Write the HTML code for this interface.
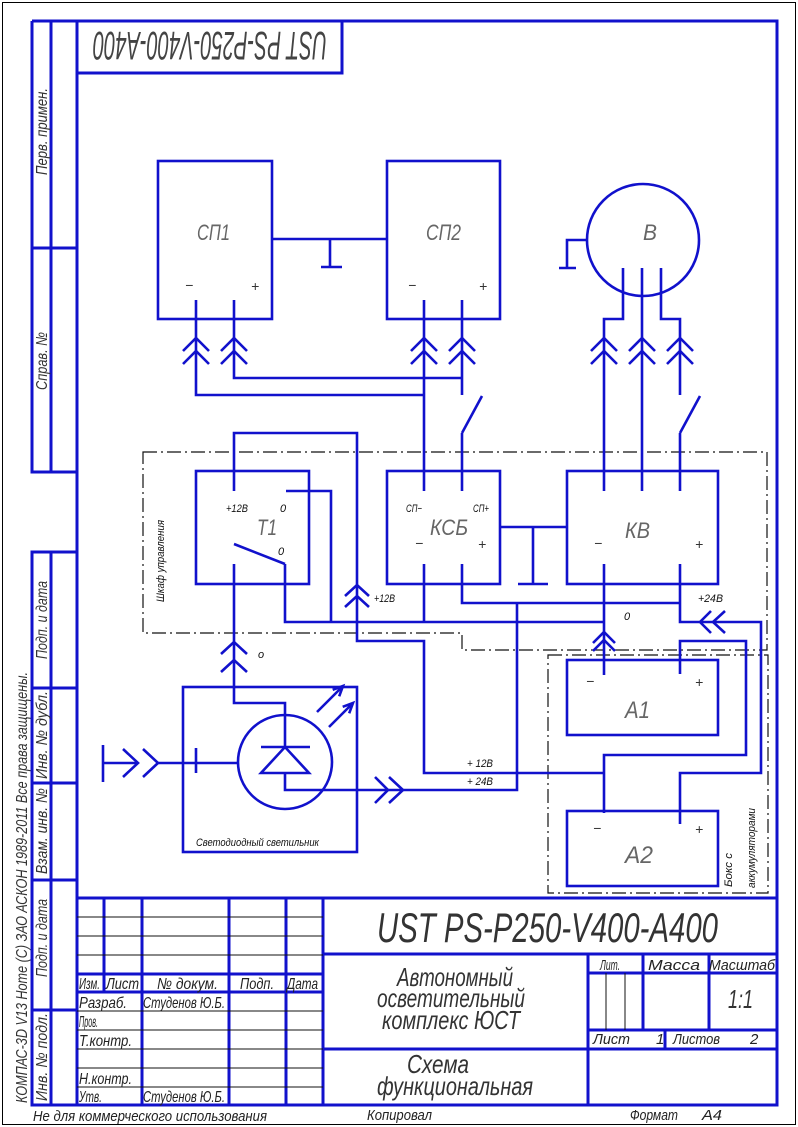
<!DOCTYPE html>
<html><head><meta charset="utf-8">
<style>
html,body{margin:0;padding:0;background:#fff;}
svg{display:block;}
text{font-family:"Liberation Sans","DejaVu Sans",sans-serif;font-style:italic;}
</style></head><body>
<svg width="798" height="1127" viewBox="0 0 798 1127" xmlns="http://www.w3.org/2000/svg">
<rect width="798" height="1127" fill="#fff"/>
<rect x="2.5" y="2.5" width="793" height="1122" fill="none" stroke="#000" stroke-width="1"/>

<!-- Frame -->
<g fill="none" stroke="#1111cc" stroke-width="3">
<path d="M77 21 V1105"/>
<path d="M32 21 H777 V1105 H32 V552 H77"/>
<path d="M32 21 V472 H77"/>
<path d="M51 21 V472"/>
<path d="M51 552 V1105"/>
<path d="M32 248 H77 M32 688 H77 M32 783 H77 M32 880 H77 M32 1010 H77"/>
<path d="M77 73 H342 V21"/>
<!-- title block -->
<path d="M77 898 H777"/>
<path d="M104 898 V992 M142 898 V1105 M229 898 V1105 M286 898 V1105 M323 898 V1105"/>
<path d="M77 974 H323 M77 992 H323"/>
<path d="M323 954 H777 M588 954 V1105 M588 973 H777 M588 1030 H777 M323 1049 H777 M643 954 V1030 M709 954 V1030 M665 1030 V1049"/>
</g>
<g fill="none" stroke="#111" stroke-width="1">
<path d="M77 917 H323 M77 936 H323 M77 955 H323 M77 1011 H323 M77 1030 H323 M77 1049 H323 M77 1068 H323 M77 1087 H323"/>
<path d="M606 973 V1030 M625 973 V1030"/>
</g>

<!-- Dash-dot boxes -->
<g fill="none" stroke="#111" stroke-width="1.2" stroke-dasharray="14 4 2 4">
<path d="M143 452 H767 V650 H462 V633 H143 Z"/>
<rect x="548" y="655" width="220" height="238"/>
</g>

<!-- Diagram wires -->
<g fill="none" stroke="#1111cc" stroke-width="2.6">
<rect x="158" y="161" width="114" height="158"/>
<rect x="387" y="161" width="113" height="158"/>
<path d="M272 239 H387 M330 239 V267 M321 267 H342"/>
<circle cx="643" cy="240" r="56"/>
<path d="M587 240 H567 V268 M559 268 H576"/>
<path d="M623 268 V319 H604 V491 M642 268 V491 M661 268 V319 H680 V395 M680 433 L700 396 M680 433 V491"/>
<path d="M196 300 V395 H424 M234 300 V378 H462 M424 300 V491 M462 300 V395 M462 433 L482 396 M462 433 V491"/>
<path d="M183 351 L196 338 L209 351 M183 364 L196 351 L209 364"/>
<path d="M221 351 L234 338 L247 351 M221 364 L234 351 L247 364"/>
<path d="M411 351 L424 338 L437 351 M411 364 L424 351 L437 364"/>
<path d="M449 351 L462 338 L475 351 M449 364 L462 351 L475 364"/>
<path d="M591 351 L604 338 L617 351 M591 364 L604 351 L617 364"/>
<path d="M629 351 L642 338 L655 351 M629 364 L642 351 L655 364"/>
<path d="M667 351 L680 338 L693 351 M667 364 L680 351 L693 364"/>

<rect x="196" y="471" width="113" height="113"/>
<path d="M234 491 V433 H357 V641 H424 V773 H604"/>
<path d="M286 491 H331 V622"/>
<path d="M234 544 L285 564"/>
<path d="M285 564 V622 H604"/>
<path d="M234 564 V703 H285 V747"/>
<path d="M345 596 L357 585 L369 596 M345 607 L357 596 L369 607"/>
<path d="M221 654 L234 642 L247 654 M221 672 L234 660 L247 672"/>

<rect x="387" y="471" width="113" height="113"/>
<path d="M424 564 V622"/>
<path d="M462 564 V603 H680"/>
<path d="M680 564 V622 H761 V773 H680 V824"/>
<path d="M517 603 V790 H285 V773"/>
<path d="M500 527 H567 M533 527 V584 M518 584 H548"/>

<rect x="567" y="471" width="151" height="113"/>
<path d="M604 564 V675"/>
<path d="M593 643 L604 632 L615 643 M593 651 L604 640 L615 651"/>
<path d="M711 611 L700 622 L711 633 M725 611 L713 622 L725 633"/>

<rect x="567" y="660" width="151" height="75"/>
<path d="M680 674 V641 H746 V755 H604 V813"/>
<rect x="567" y="811" width="151" height="75"/>

<rect x="183" y="687" width="174" height="165"/>
<circle cx="285" cy="762" r="47"/>
<path d="M261 773 L309 773 L285 747 Z"/>
<path d="M261 747 H310"/>
<path d="M103 745 V782 M103 763 H138 M158 763 H238 M196 748 V773"/>
<path d="M123 749 L138 763 L123 777 M143 749 L158 763 L143 777"/>
<path d="M375 777 L388 790 L375 803 M389 777 L403 790 L389 803"/>
<path d="M317 712 L343 686 M332.7 689.8 L343 686 L339.2 696.3"/>
<path d="M329 727 L353 703 M342.7 706.8 L353 703 L349.2 713.3"/>
</g>

<!-- Diagram labels -->
<g fill="#666">
<text x="197" y="240" font-size="22" textLength="33" lengthAdjust="spacingAndGlyphs">СП1</text>
<text x="426" y="240" font-size="22" textLength="35" lengthAdjust="spacingAndGlyphs">СП2</text>
<text x="643" y="240" font-size="22" textLength="14" lengthAdjust="spacingAndGlyphs">В</text>
<text x="257" y="535" font-size="22" textLength="20" lengthAdjust="spacingAndGlyphs">Т1</text>
<text x="430" y="535" font-size="22" textLength="38" lengthAdjust="spacingAndGlyphs">КСБ</text>
<text x="625" y="538" font-size="22" textLength="25" lengthAdjust="spacingAndGlyphs">КВ</text>
<text x="625" y="718" font-size="24" textLength="25" lengthAdjust="spacingAndGlyphs">А1</text>
<text x="625" y="863" font-size="24" textLength="28" lengthAdjust="spacingAndGlyphs">А2</text>
</g>
<g fill="#333" font-size="14">
<text x="185" y="290">−</text><text x="251" y="291">+</text>
<text x="408" y="290">−</text><text x="479" y="291">+</text>
<text x="415" y="548">−</text><text x="478" y="549">+</text>
<text x="594" y="548">−</text><text x="695" y="549">+</text>
<text x="586" y="686">−</text><text x="695" y="687">+</text>
<text x="593" y="833">−</text><text x="695" y="834">+</text>
</g>
<g fill="#111" font-size="11">
<text x="226" y="512" textLength="22" lengthAdjust="spacingAndGlyphs">+12В</text>
<text x="280" y="512">0</text>
<text x="278" y="555">0</text>
<text x="406" y="512" textLength="16" lengthAdjust="spacingAndGlyphs">СП−</text>
<text x="473" y="512" textLength="16" lengthAdjust="spacingAndGlyphs">СП+</text>
<text x="374" y="602" textLength="21" lengthAdjust="spacingAndGlyphs">+12В</text>
<text x="698" y="602" textLength="25" lengthAdjust="spacingAndGlyphs">+24В</text>
<text x="624" y="620">0</text>
<text x="258" y="658">о</text>
<text x="467" y="767" textLength="26" lengthAdjust="spacingAndGlyphs">+ 12В</text>
<text x="467" y="785" textLength="26" lengthAdjust="spacingAndGlyphs">+ 24В</text>
<text x="196" y="846" textLength="123" lengthAdjust="spacingAndGlyphs">Светодиодный светильник</text>
<text transform="translate(164,602) rotate(-90)" textLength="82" lengthAdjust="spacingAndGlyphs">Шкаф управления</text>
<text transform="translate(732,887) rotate(-90)" textLength="34" lengthAdjust="spacingAndGlyphs">Бокс с</text>
<text transform="translate(755,888) rotate(-90)" textLength="80" lengthAdjust="spacingAndGlyphs">аккумуляторами</text>
</g>

<text transform="rotate(180 210 47)" x="210" y="62" font-size="40" fill="#444" text-anchor="middle" textLength="234" lengthAdjust="spacingAndGlyphs">UST PS-P250-V400-A400</text>

<g fill="#333" font-size="16">
<text transform="translate(47,175) rotate(-90)" textLength="87" lengthAdjust="spacingAndGlyphs">Перв. примен.</text>
<text transform="translate(47,390) rotate(-90)" textLength="58" lengthAdjust="spacingAndGlyphs">Справ. №</text>
<text transform="translate(47,659) rotate(-90)" textLength="78" lengthAdjust="spacingAndGlyphs">Подп. и дата</text>
<text transform="translate(47,779) rotate(-90)" textLength="88" lengthAdjust="spacingAndGlyphs">Инв. № дубл.</text>
<text transform="translate(47,874) rotate(-90)" textLength="86" lengthAdjust="spacingAndGlyphs">Взам. инв. №</text>
<text transform="translate(47,977) rotate(-90)" textLength="78" lengthAdjust="spacingAndGlyphs">Подп. и дата</text>
<text transform="translate(47,1101) rotate(-90)" textLength="88" lengthAdjust="spacingAndGlyphs">Инв. № подл.</text>
<text transform="translate(27,1103) rotate(-90)" textLength="431" lengthAdjust="spacingAndGlyphs">КОМПАС-3D V13 Home (C) ЗАО АСКОН 1989-2011 Все права защищены.</text>
</g>

<g fill="#222" font-size="16">
<text x="79" y="989" textLength="21" lengthAdjust="spacingAndGlyphs">Изм.</text>
<text x="106" y="989" textLength="33" lengthAdjust="spacingAndGlyphs">Лист</text>
<text x="157" y="989" textLength="61" lengthAdjust="spacingAndGlyphs">№ докум.</text>
<text x="240" y="989" textLength="34" lengthAdjust="spacingAndGlyphs">Подп.</text>
<text x="287" y="989" textLength="31" lengthAdjust="spacingAndGlyphs">Дата</text>
<text x="79" y="1008" textLength="48" lengthAdjust="spacingAndGlyphs">Разраб.</text>
<text x="143" y="1008" textLength="82" lengthAdjust="spacingAndGlyphs">Студенов Ю.Б.</text>
<text x="79" y="1027" textLength="19" lengthAdjust="spacingAndGlyphs">Пров.</text>
<text x="79" y="1046" textLength="53" lengthAdjust="spacingAndGlyphs">Т.контр.</text>
<text x="79" y="1084" textLength="53" lengthAdjust="spacingAndGlyphs">Н.контр.</text>
<text x="79" y="1102" textLength="23" lengthAdjust="spacingAndGlyphs">Утв.</text>
<text x="143" y="1102" textLength="82" lengthAdjust="spacingAndGlyphs">Студенов Ю.Б.</text>
</g>
<g fill="#333">
<text x="377" y="942" font-size="42" textLength="341" lengthAdjust="spacingAndGlyphs">UST PS-P250-V400-A400</text>
<text x="397" y="986" font-size="26" textLength="116" lengthAdjust="spacingAndGlyphs">Автономный</text>
<text x="377" y="1007" font-size="26" textLength="148" lengthAdjust="spacingAndGlyphs">осветительный</text>
<text x="382" y="1029" font-size="26" textLength="138" lengthAdjust="spacingAndGlyphs">комплекс ЮСТ</text>
<text x="407" y="1073" font-size="26" textLength="62" lengthAdjust="spacingAndGlyphs">Схема</text>
<text x="377" y="1095" font-size="26" textLength="156" lengthAdjust="spacingAndGlyphs">функциональная</text>
<text x="728" y="1008" font-size="26" textLength="25" lengthAdjust="spacingAndGlyphs">1:1</text>
</g>
<g fill="#222">
<text x="600" y="970" font-size="15" textLength="20" lengthAdjust="spacingAndGlyphs">Лит.</text>
<text x="648" y="970" font-size="15" textLength="52" lengthAdjust="spacingAndGlyphs">Масса</text>
<text x="709" y="970" font-size="15" textLength="66" lengthAdjust="spacingAndGlyphs">Масштаб</text>
<text x="593" y="1044" font-size="15" textLength="37" lengthAdjust="spacingAndGlyphs">Лист</text>
<text x="656" y="1044" font-size="15">1</text>
<text x="673" y="1044" font-size="15" textLength="47" lengthAdjust="spacingAndGlyphs">Листов</text>
<text x="750" y="1044" font-size="15">2</text>
<text x="33" y="1121" font-size="15" textLength="234" lengthAdjust="spacingAndGlyphs">Не для коммерческого использования</text>
<text x="367" y="1120" font-size="15" textLength="65" lengthAdjust="spacingAndGlyphs">Копировал</text>
<text x="630" y="1120" font-size="15" textLength="48" lengthAdjust="spacingAndGlyphs">Формат</text>
<text x="702" y="1120" font-size="15" textLength="20" lengthAdjust="spacingAndGlyphs">А4</text>
</g>
</svg>
</body></html>
